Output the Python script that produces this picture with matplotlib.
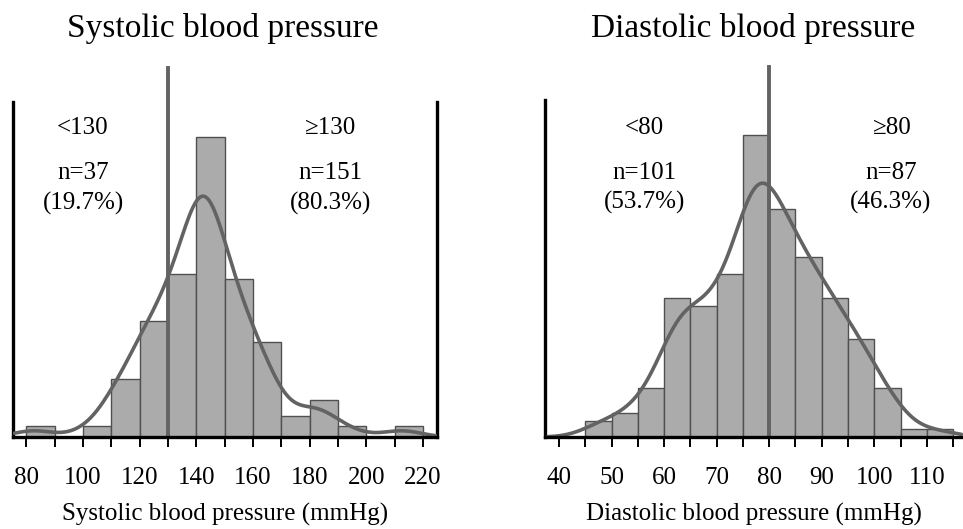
import math
import matplotlib
matplotlib.use('Agg')
import matplotlib.pyplot as plt
import numpy as np

plt.rcParams['font.family'] = ['Liberation Serif', 'DejaVu Serif']

# systolic: counts per 10 mmHg bin
sbp_edges = [80, 90, 100, 110, 120, 130, 140, 150, 160, 170, 180, 190, 200, 210, 220]
sbp_counts = [2, 0, 2, 11, 22, 31, 57, 30, 18, 4, 7, 2, 0, 2]
sbp_cut = 130
sbp_groups = ['<130', '\u2265130']
sbp_n = ['n=37', 'n=151']
sbp_pct = ['(19.7%)', '(80.3%)']

# diastolic: counts per 5 mmHg bin
dbp_edges = [45, 50, 55, 60, 65, 70, 75, 80, 85, 90, 95, 100, 105, 110, 115]
dbp_counts = [2, 3, 6, 17, 16, 20, 37, 28, 22, 17, 12, 6, 1, 1]
dbp_cut = 80
dbp_groups = ['<80', '\u226580']
dbp_n = ['n=101', 'n=87']
dbp_pct = ['(53.7%)', '(46.3%)']

BAR = '#ababab'
EDGE = '#505050'
LINE = '#636363'


def smooth(edges, counts, x, bw, pos=0.5):
    # gaussian smoothing of the binned counts, scaled to bar heights
    # pos: where the mass of each bin sits (readings cluster on round values)
    edges = np.asarray(edges, float)
    counts = np.asarray(counts, float)
    w = np.diff(edges)
    mids = edges[:-1] + pos * w
    s = np.sqrt(bw ** 2 + w ** 2 / 12)
    y = np.zeros_like(x)
    for m, c, sd in zip(mids, counts, s):
        y += c * np.exp(-0.5 * ((x - m) / sd) ** 2) / (sd * math.sqrt(2 * math.pi))
    return y * w[0]


def panel(ax, edges, counts, cut, xlim, ylim, vtop, bw, pos, groups, ns, pcts,
          tx, ty, major, minor, xlabel, right_spine):
    ax.bar(edges[:-1], counts, width=np.diff(edges), align='edge',
           color=BAR, edgecolor=EDGE, linewidth=1, zorder=2)
    xs = np.linspace(xlim[0] + 0.5, xlim[1] - 0.3, 400)
    ax.plot(xs, smooth(edges, counts, xs, bw, pos), color=LINE, lw=2.6, zorder=4,
            solid_capstyle='round')
    ax.plot([cut, cut], [0, vtop], color=LINE, lw=2.8, zorder=3, clip_on=False)
    ax.set_xlim(*xlim)
    ax.set_ylim(*ylim)
    for i in range(2):
        ax.text(tx[i], ty[0], groups[i], ha='center', va='center', fontsize=18)
        ax.text(tx[i], ty[1], ns[i], ha='center', va='center', fontsize=18)
        ax.text(tx[i], ty[2], pcts[i], ha='center', va='center', fontsize=18)
    ax.set_xticks(major)
    ax.set_xticks(minor, minor=True)
    ax.tick_params(axis='x', which='both', direction='out', length=7.5, width=1.4,
                   labelsize=18, pad=14, colors='black')
    ax.set_yticks([])
    ax.set_xlabel(xlabel, fontsize=18, labelpad=10)
    ax.spines['top'].set_visible(False)
    ax.spines['right'].set_visible(right_spine)
    for sp in ['left', 'right', 'bottom']:
        ax.spines[sp].set_linewidth(2.4)
        ax.spines[sp].set_color('black')
    ax.spines['bottom'].set_zorder(5)


fig = plt.figure(figsize=(9.63, 5.29), dpi=100)

ax1 = fig.add_axes([13 / 963, 92 / 529, 424 / 963, 335 / 529])
panel(ax1, sbp_edges, sbp_counts, sbp_cut, (75.3, 224.9), (0, 63.7), 70.2, 6.2, 0.25,
      sbp_groups, sbp_n, sbp_pct, [100, 187.2], [58.7, 50.2, 44.5],
      list(range(80, 221, 20)), list(range(90, 220, 20)),
      'Systolic blood pressure (mmHg)', True)

ax2 = fig.add_axes([545 / 963, 92 / 529, 418 / 963, 337 / 529])
panel(ax2, dbp_edges, dbp_counts, dbp_cut, (37.3, 116.9), (0, 41.3), 45.4, 3.5, 0.5,
      dbp_groups, dbp_n, dbp_pct, [56.2, 103.2], [37.9, 32.4, 28.7],
      list(range(40, 111, 10)), list(range(45, 116, 10)),
      'Diastolic blood pressure (mmHg)', False)

fig.text(223 / 963, 1 - 29 / 529, 'Systolic blood pressure', ha='center', va='center', fontsize=24)
fig.text(753 / 963, 1 - 29 / 529, 'Diastolic blood pressure', ha='center', va='center', fontsize=24)

fig.savefig('out.png', dpi=100)
